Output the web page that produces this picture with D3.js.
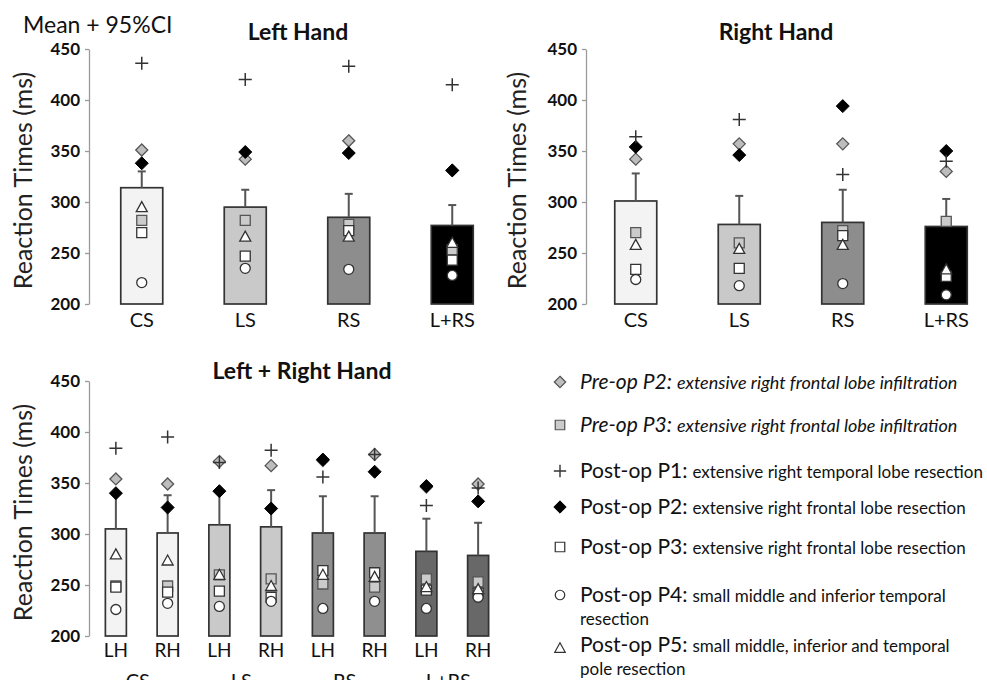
<!DOCTYPE html>
<html>
<head>
<meta charset="utf-8">
<script src="https://cdn.jsdelivr.net/npm/d3@7/dist/d3.min.js"></script>
<style>
  html, body { margin: 0; padding: 0; background: #fff; }
  svg { display: block; font-family: Lato, "Open Sans", sans-serif; }
</style>
</head>
<body>
<svg id="chart" width="987" height="680"></svg>
<script>
// ---------------- DATA ----------------
const groups = ["CS", "LS", "RS", "L+RS"];
const handLabels = ["LH", "RH"];
const yTicks = [200, 250, 300, 350, 400, 450];

// Left Hand panel (per group)
const lhMean    = [314, 295, 285, 277];
const lhCI      = [330, 312, 308, 297];
const lhPostP1  = [436, 420, 433, 415];
const lhPreP2   = [351, 342, 360, 331];
const lhPostP2  = [338, 349, 348, 331];
const lhPreP3   = [282, 282, 278, 253];
const lhPostP3  = [270, 247, 272, 243];
const lhPostP4  = [221, 235, 234, 228];
const lhPostP5  = [295, 266, 266, 260];

// Right Hand panel (per group)
const rhMean    = [301, 278, 280, 276];
const rhCI      = [328, 306, 312, 303];
const rhPostP1  = [364, 381, 327, 340];
const rhPreP2   = [342, 357, 357, 330];
const rhPostP2  = [354, 346, 394, 350];
const rhPreP3   = [270, 260, 272, 281];
const rhPostP3  = [234, 235, 267, 227];
const rhPostP4  = [224, 218, 220, 209];
const rhPostP5  = [258, 254, 258, 234];

// Left + Right Hand panel (CS-LH, CS-RH, LS-LH, LS-RH, RS-LH, RS-RH, L+RS-LH, L+RS-RH)
const bothMean   = [305, 301, 309, 307, 301, 301, 283, 279];
const bothCI     = [340, 338, 342, 343, 337, 337, 315, 311];
const bothPostP1 = [384, 395, 370, 382, 356, 378, 328, 345];
const bothPreP2  = [354, 349, 371, 367, 372, 378, 346, 349];
const bothPostP2 = [340, 326, 342, 325, 373, 361, 347, 332];
const bothPreP3  = [249, 249, 260, 256, 251, 248, 256, 253];
const bothPostP3 = [248, 243, 244, 238, 264, 262, 245, 242];
const bothPostP4 = [226, 232, 229, 234, 227, 234, 227, 238];
const bothPostP5 = [280, 274, 260, 249, 260, 258, 248, 246];

// Legend
const legendNames = ["Pre-op P2:", "Pre-op P3:", "Post-op P1:", "Post-op P2:", "Post-op P3:", "Post-op P4:", "Post-op P5:"];
const legendDescs = [
  ["extensive right frontal lobe infiltration"],
  ["extensive right frontal lobe infiltration"],
  ["extensive right temporal lobe resection"],
  ["extensive right frontal lobe resection"],
  ["extensive right frontal lobe resection"],
  ["small middle and inferior temporal", "resection"],
  ["small middle, inferior and temporal", "pole resection"]
];
const legendTypes = ["grayDiamond", "graySquare", "plus", "blackDiamond", "whiteSquare", "circle", "triangle"];

// ---------------- STYLES ----------------
const markerStyle = {
  grayDiamond:  { path: "M0,-6L6,0L0,6L-6,0Z", fill: "#bdbdbd", stroke: "#555", sw: 1.3 },
  blackDiamond: { path: "M0,-6.5L6.5,0L0,6.5L-6.5,0Z", fill: "#000", stroke: "#000", sw: 1 },
  graySquare:   { path: "M-5,-5H5V5H-5Z", fill: "#cbcbcb", stroke: "#555", sw: 1.3 },
  whiteSquare:  { path: "M-5,-5H5V5H-5Z", fill: "#fff", stroke: "#333", sw: 1.3 },
  circle:       { path: "M5,0A5,5 0 1,1 -5,0A5,5 0 1,1 5,0Z", fill: "#fff", stroke: "#333", sw: 1.3 },
  triangle:     { path: "M0,-5.5L5.5,4.5L-5.5,4.5Z", fill: "#fff", stroke: "#333", sw: 1.3 },
  plus:         { path: "M-6.5,0H6.5M0,-6.5V6.5", fill: "none", stroke: "#333", sw: 1.5 }
};

const svg = d3.select("#chart");

function drawPanel(cfg) {
  const g = svg.append("g");
  const y = d3.scaleLinear().domain([200, 450]).range([cfg.yBot, cfg.yTop]);
  const x = d3.scalePoint().domain(cfg.cats).range([cfg.x0, cfg.x1]).padding(0.5);

  // axis
  const ax = g.append("g")
    .attr("transform", `translate(${cfg.axisX},0)`)
    .call(d3.axisLeft(y).tickValues(yTicks).tickSize(4).tickSizeOuter(0).tickPadding(5));
  ax.select(".domain").attr("stroke", "#9a9a9a").attr("stroke-width", 1.3);
  ax.selectAll(".tick line").attr("stroke", "#9a9a9a").attr("stroke-width", 1.3);
  ax.selectAll(".tick text")
    .attr("font-family", "Lato, sans-serif")
    .attr("font-weight", "bold").attr("font-size", 17).attr("fill", "#111");

  // bars
  g.selectAll("rect.bar").data(cfg.cats).enter().append("rect")
    .attr("x", d => x(d) - cfg.barW / 2)
    .attr("width", cfg.barW)
    .attr("y", (d, i) => y(cfg.mean[i]))
    .attr("height", (d, i) => y(200) - y(cfg.mean[i]))
    .attr("fill", (d, i) => cfg.fills[i])
    .attr("stroke", "#333").attr("stroke-width", 1.7);

  // error bars
  const eb = g.selectAll("g.eb").data(cfg.cats).enter().append("g");
  eb.append("line")
    .attr("x1", d => x(d)).attr("x2", d => x(d))
    .attr("y1", (d, i) => y(cfg.mean[i])).attr("y2", (d, i) => y(cfg.ci[i]))
    .attr("stroke", "#555").attr("stroke-width", 2);
  eb.append("line")
    .attr("x1", d => x(d) - 4).attr("x2", d => x(d) + 4)
    .attr("y1", (d, i) => y(cfg.ci[i])).attr("y2", (d, i) => y(cfg.ci[i]))
    .attr("stroke", "#555").attr("stroke-width", 2);

  // markers
  cfg.series.forEach(s => {
    const st = markerStyle[s.type];
    g.selectAll(null).data(s.vals).enter().append("path")
      .attr("transform", (v, i) => `translate(${x(cfg.cats[i])},${y(v)})`)
      .attr("d", st.path)
      .attr("fill", st.fill).attr("stroke", st.stroke).attr("stroke-width", st.sw);
  });

  // category labels
  g.selectAll("text.cat").data(cfg.cats).enter().append("text")
    .attr("x", d => x(d)).attr("y", cfg.yBot + cfg.catDy)
    .attr("text-anchor", "middle").attr("font-size", cfg.catSize).attr("fill", "#111")
    .text(d => cfg.catText ? cfg.catText(d) : d);

  // y title
  svg.append("text")
    .attr("transform", `translate(${cfg.titleX},${(cfg.yTop + cfg.yBot) / 2 + 4}) rotate(-90)`)
    .attr("text-anchor", "middle").attr("font-size", 25).attr("fill", "#222")
    .text("Reaction Times (ms)");

  // panel title
  svg.append("text")
    .attr("x", cfg.headX).attr("y", cfg.headY)
    .attr("text-anchor", "middle").attr("font-weight", "bold").attr("font-size", 23).attr("fill", "#111")
    .text(cfg.head);

  return x;
}

function seriesOf(p2pre, p2post, p3pre, p3post, p4, p5, p1) {
  return [
    { vals: p2pre, type: "grayDiamond" },
    { vals: p2post, type: "blackDiamond" },
    { vals: p3pre, type: "graySquare" },
    { vals: p3post, type: "whiteSquare" },
    { vals: p4, type: "circle" },
    { vals: p5, type: "triangle" },
    { vals: p1, type: "plus" }
  ];
}

// Left Hand
drawPanel({
  cats: groups, x0: 90, x1: 504, yTop: 49, yBot: 304, axisX: 89, barW: 42,
  mean: lhMean, ci: lhCI,
  fills: ["#f3f3f3", "#c9c9c9", "#8d8d8d", "#000000"],
  series: seriesOf(lhPreP2, lhPostP2, lhPreP3, lhPostP3, lhPostP4, lhPostP5, lhPostP1),
  catDy: 23, catSize: 20, titleX: 32, head: "Left Hand", headX: 298, headY: 40
});

// Right Hand
drawPanel({
  cats: groups, x0: 584, x1: 998, yTop: 49, yBot: 304, axisX: 586, barW: 42,
  mean: rhMean, ci: rhCI,
  fills: ["#f3f3f3", "#c9c9c9", "#8d8d8d", "#000000"],
  series: seriesOf(rhPreP2, rhPostP2, rhPreP3, rhPostP3, rhPostP4, rhPostP5, rhPostP1),
  catDy: 23, catSize: 20, titleX: 526, head: "Right Hand", headX: 776, headY: 40
});

// Left + Right Hand
const bothCats = [];
groups.forEach(gr => handLabels.forEach(h => bothCats.push(gr + "|" + h)));
const bothFills = [];
["#f3f3f3", "#c9c9c9", "#8f8f8f", "#686868"].forEach(c => { bothFills.push(c, c); });
const xb = drawPanel({
  cats: bothCats, x0: 90, x1: 504, yTop: 381, yBot: 636, axisX: 89, barW: 21,
  mean: bothMean, ci: bothCI, fills: bothFills,
  series: seriesOf(bothPreP2, bothPostP2, bothPreP3, bothPostP3, bothPostP4, bothPostP5, bothPostP1),
  catDy: 21, catSize: 19, catText: d => d.split("|")[1],
  titleX: 32, head: "Left + Right Hand", headX: 302, headY: 379
});
// group labels under pairs (partly cut by the bottom edge, as in the original)
svg.selectAll("text.grp").data(groups).enter().append("text")
  .attr("x", gr => (xb(gr + "|LH") + xb(gr + "|RH")) / 2 - 4)
  .attr("y", 688).attr("text-anchor", "middle").attr("font-size", 20).attr("fill", "#111")
  .text(gr => gr);

// Mean label
svg.append("text").attr("x", 23).attr("y", 33).attr("font-size", 23).attr("fill", "#111").text("Mean + 95%CI");

// Legend
const legY = [382, 425, 471, 507, 547, 595, 645];
const leg = svg.append("g");
legendNames.forEach((name, i) => {
  const st = markerStyle[legendTypes[i]];
  const pre = name.startsWith("Pre");
  leg.append("path")
    .attr("transform", `translate(560,${legY[i] + (legendTypes[i] === "triangle" ? 3 : 0)}) scale(0.95)`)
    .attr("d", st.path).attr("fill", st.fill).attr("stroke", st.stroke).attr("stroke-width", st.sw);
  const t = leg.append("text").attr("x", 580).attr("y", legY[i] + 7).attr("fill", "#111");
  t.append("tspan").attr("font-size", 21).attr("font-style", pre ? "italic" : "normal").text(name);
  t.append("tspan").attr("font-size", pre ? 18 : 17).attr("font-style", pre ? "italic" : "normal")
    .attr("dx", 5).text(legendDescs[i][0]);
  if (legendDescs[i][1]) {
    leg.append("text").attr("x", 580).attr("y", legY[i] + 30).attr("font-size", 17).attr("fill", "#111")
      .text(legendDescs[i][1]);
  }
});
</script>
</body>
</html>
